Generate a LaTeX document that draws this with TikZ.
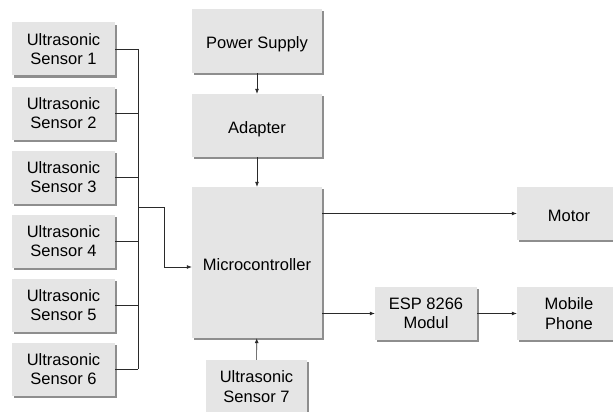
\documentclass[tikz,border=0pt]{standalone}
\usepackage{fontspec}
\setmainfont{Liberation Sans}
\usetikzlibrary{shadows,arrows.meta}
\definecolor{boxfill}{HTML}{E5E5E5}
\definecolor{boxshadow}{HTML}{8E8E8E}
\definecolor{linecol}{HTML}{2A2A2A}
\begin{document}
\begin{tikzpicture}[x=1pt,y=-1pt,
  blk/.style={fill=boxfill, draw=none, inner sep=0pt, align=center,
    font=\fontsize{16.5}{19.5}\selectfont,
    drop shadow={shadow xshift=2.2pt, shadow yshift=-2.2pt, fill=boxshadow, opacity=1}},
  oneline/.style={text height=15pt, text depth=0pt},
  sens/.style={blk, minimum width=103pt, minimum height=53pt},
  conn/.style={draw=linecol, line width=0.7pt},
  arr/.style={conn, -{Latex[length=5pt,width=4pt]}}]
\path[use as bounding box] (0,0) rectangle (613,412);
\clip (0,0) rectangle (613,412);

% sensors
\node[sens] (s1) at (63.5,49) {Ultrasonic\\Sensor 1};
\node[sens] (s2) at (63.5,113) {Ultrasonic\\Sensor 2};
\node[sens] (s3) at (63.5,177) {Ultrasonic\\Sensor 3};
\node[sens] (s4) at (63.5,241) {Ultrasonic\\Sensor 4};
\node[sens] (s5) at (63.5,305) {Ultrasonic\\Sensor 5};
\node[sens] (s6) at (63.5,369) {Ultrasonic\\Sensor 6};

% central column
\node[blk, oneline, minimum width=130pt, minimum height=64pt] (ps) at (257,41) {Power Supply};
\node[blk, oneline, minimum width=130pt, minimum height=63pt] (ad) at (257,125.5) {Adapter};
\node[blk, oneline, minimum width=130pt, minimum height=151pt] (mc) at (257,262.5) {Microcontroller};
\node[blk, minimum width=101pt, minimum height=53pt] (s7) at (256.5,386.5) {Ultrasonic\\Sensor 7};

% right side
\node[blk, oneline, minimum width=104pt, minimum height=53pt] (motor) at (569,213.5) {Motor};
\node[blk, minimum width=102pt, minimum height=53pt] (esp) at (426,313.5) {ESP 8266\\Modul};
\node[blk, minimum width=104pt, minimum height=53pt] (mob) at (569,313.5) {Mobile\\Phone};

% bus coordinates
\coordinate (busx) at (138,0);
\coordinate (j1) at (138,207);
\coordinate (j2) at (164,207);
\coordinate (j3) at (164,267);

\foreach \s in {s1,s2,s3,s4,s5,s6}
  \draw[conn] (\s.east) -- (\s.east -| busx);
\draw[conn] (s1.east -| busx) -- (s6.east -| busx);
\draw[arr] (j1) -- (j2) -- (j3) -- (j3 -| mc.west);

\draw[arr] (ps) -- (ad);
\draw[arr] (ad) -- (mc);
\draw[arr] (s7) -- (mc);
\draw[arr] (mc.east |- motor) -- (motor.west);
\draw[arr] (mc.east |- esp) -- (esp.west);
\draw[arr] (esp) -- (mob);
\end{tikzpicture}
\end{document}
